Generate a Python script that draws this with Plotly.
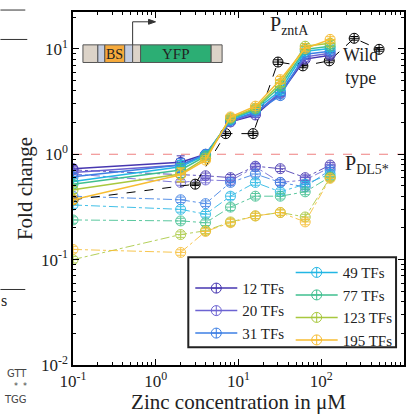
import plotly.graph_objects as go

# ---------------- data ----------------
zinc = [0.1, 2, 4, 8, 16, 32, 64, 128]
tf_labels = ["12 TFs", "20 TFs", "31 TFs", "49 TFs", "77 TFs", "123 TFs", "195 TFs"]
colors = ["#4636b0", "#6c63d2", "#3d7fe4", "#22b6e4", "#3fbf8f", "#a8c83e", "#f7bd32"]

# P_zntA (solid lines)
zntA_12 = [0.73, 0.84, 1.00, 2.03, 2.36, 3.78, 8.0, 8.7]
zntA_20 = [0.67, 0.79, 0.98, 2.03, 2.46, 3.86, 8.4, 9.1]
zntA_31 = [0.61, 0.79, 1.00, 2.08, 2.52, 3.60, 8.9, 9.5]
zntA_49 = [0.55, 0.76, 0.98, 2.12, 2.63, 4.03, 9.5, 10.1]
zntA_77 = [0.52, 0.71, 0.96, 2.17, 2.69, 4.40, 9.9, 10.6]
zntA_123 = [0.46, 0.65, 0.92, 2.21, 2.74, 4.70, 10.6, 11.3]
zntA_195 = [0.37, 0.64, 0.88, 2.26, 2.86, 5.10, 10.1, 12.3]

# P_DL5* (dash-dot lines)
dl5_12 = [0.71, 0.64, 0.625, 0.60, 0.77, 0.73, 0.60, 0.79]
dl5_20 = [0.65, 0.54, 0.57, 0.56, 0.76, 0.54, 0.57, 0.75]
dl5_31 = [0.40, 0.37, 0.34, 0.54, 0.65, 0.54, 0.49, 0.71]
dl5_49 = [0.33, 0.30, 0.27, 0.40, 0.54, 0.44, 0.52, 0.65]
dl5_77 = [0.238, 0.233, 0.224, 0.315, 0.40, 0.40, 0.44, 0.61]
dl5_123 = [0.100, 0.173, 0.188, 0.228, 0.26, 0.28, 0.254, 0.60]
dl5_195 = [0.125, 0.117, 0.185, 0.224, 0.26, 0.28, 0.228, 0.59]

# relative error bars per zinc concentration
zntA_rel_err = [0.08, 0.15, 0.05, 0.05, 0.05, 0.07, 0.06, 0.06]
dl5_rel_err = [0.07, 0.06, 0.06, 0.07, 0.06, 0.06, 0.06, 0.06]

# wild type
wt_zinc = [0.1, 3, 7, 15, 30, 60, 125, 250, 500]
wt_fold = [0.37, 0.52, 1.57, 1.57, 7.5, 6.9, 7.7, 12.6, 9.9]
wt_rel_err = [0.04, 0.03, 0.04, 0.04, 0.05, 0.04, 0.04, 0.04, 0.04]

x_tickvals = [0.1, 1, 10, 100, 1000]
x_ticktext = ["10<sup>-1</sup>", "10<sup>0</sup>", "10<sup>1</sup>", "10<sup>2</sup>", "10<sup>3</sup>"]
y_tickvals = [0.01, 0.1, 1, 10]
y_ticktext = ["10<sup>-2</sup>", "10<sup>-1</sup>", "10<sup>0</sup>", "10<sup>1</sup>"]

zntA_all = [zntA_12, zntA_20, zntA_31, zntA_49, zntA_77, zntA_123, zntA_195]
dl5_all = [dl5_12, dl5_20, dl5_31, dl5_49, dl5_77, dl5_123, dl5_195]

FONT = "Liberation Serif, Times New Roman, serif"
SANS = "DejaVu Sans, sans-serif"
TXT = "#222"
W, H = 410, 414
L, R, T, B = 73, 406, 12, 372


def px(x):
    return (x - L) / (R - L)


def py(y):
    return (B - y) / (B - T)


fig = go.Figure()

# lower (P_DL5*) series
for i in range(len(tf_labels)):
    vals = dl5_all[i]
    fig.add_trace(go.Scatter(
        x=zinc, y=vals, mode="lines+markers", showlegend=False,
        line=dict(color=colors[i], width=1, dash="dashdot"),
        marker=dict(symbol="circle-cross-open", size=10, color=colors[i], line=dict(width=1)),
        error_y=dict(type="data", array=[v * e for v, e in zip(vals, dl5_rel_err)],
                     color=colors[i], thickness=1, width=4),
        opacity=0.85,
    ))

# wild type
fig.add_trace(go.Scatter(
    x=wt_zinc, y=wt_fold, mode="lines+markers", showlegend=False,
    line=dict(color="black", width=1, dash="dash"),
    marker=dict(symbol="circle-cross-open", size=10, color="black", line=dict(width=1)),
    error_y=dict(type="data", array=[v * e for v, e in zip(wt_fold, wt_rel_err)],
                 color="black", thickness=1, width=4),
))

# upper (P_zntA) series
for i in range(len(tf_labels)):
    vals = zntA_all[i]
    fig.add_trace(go.Scatter(
        x=zinc, y=vals, mode="lines+markers", name=tf_labels[i],
        legend="legend" if i < 3 else "legend2",
        line=dict(color=colors[i], width=1.5),
        marker=dict(symbol="circle-cross-open", size=10, color=colors[i], line=dict(width=1)),
        error_y=dict(type="data", array=[v * e for v, e in zip(vals, zntA_rel_err)],
                     color=colors[i], thickness=1, width=4),
    ))

# minor tick positions (decoration)
x_minor = [k * 10 ** n for n in range(-1, 3) for k in range(2, 10)]
y_minor = [k * 10 ** n for n in range(-2, 2) for k in range(2, 10)]

axis_common = dict(
    type="log", showgrid=False, zeroline=False, showline=True, linecolor="black",
    linewidth=1.5, mirror="ticks", ticks="inside", ticklen=6, tickcolor="black",
    tickfont=dict(family=FONT, size=17, color=TXT),
    tickmode="array",
)

fig.update_xaxes(
    **axis_common, range=[-1, 3], tickvals=x_tickvals, ticktext=x_ticktext,
    minor=dict(tickvals=x_minor, ticks="inside", ticklen=3, tickcolor="black"),
    title=dict(text="Zinc concentration in μM", font=dict(family=FONT, size=21, color=TXT),
               standoff=4),
)
fig.update_yaxes(
    **axis_common, range=[-2, 1.35], tickvals=y_tickvals, ticktext=y_ticktext,
    minor=dict(tickvals=y_minor, ticks="inside", ticklen=3, tickcolor="black"),
    title=dict(text="Fold change", font=dict(family=FONT, size=21, color=TXT), standoff=3),
)

shapes = []
# reference line at fold change = 1
shapes.append(dict(type="line", xref="paper", yref="y", x0=0, x1=1, y0=1, y1=1,
                   line=dict(color="#f08080", width=1.2, dash="dash"), layer="below"))
# legend box
shapes.append(dict(type="rect", xref="paper", yref="paper", x0=px(189), x1=px(398),
                   y0=py(354), y1=py(262), line=dict(color="#222", width=2), layer="below"))

# promoter diagram
seg = [(83, 98, "#dcd3c8"), (98, 105, "#c4cde0"), (105, 125, "#f6aa3c"), (125, 133, "#c4cde0"),
       (133, 141, "#dcd3c8"), (141, 212, "#2cae74"), (212, 223, "#dcd3c8")]
for x0, x1, c in seg:
    shapes.append(dict(type="rect", xref="paper", yref="paper", x0=px(x0), x1=px(x1),
                       y0=py(63.5), y1=py(45.5), fillcolor=c, line=dict(color="#555", width=1),
                       layer="above"))
shapes.append(dict(type="path", xref="paper", yref="paper",
                   path=f"M{px(133)},{py(45.5)} L{px(133)},{py(22)} L{px(150)},{py(22)}",
                   line=dict(color="#333", width=1), layer="above"))
shapes.append(dict(type="path", xref="paper", yref="paper",
                   path=f"M{px(149)},{py(19.5)} L{px(156)},{py(22)} L{px(149)},{py(24.5)} Z",
                   fillcolor="#333", line=dict(color="#333", width=1), layer="above"))

# fragments of the neighbouring panel at the left edge
for yy, xe in [(10, 25), (40, 27), (295, 25)]:
    shapes.append(dict(type="line", xref="paper", yref="paper", x0=px(0), x1=px(xe),
                       y0=py(yy), y1=py(yy), line=dict(color="#333", width=1)))

annotations = [
    dict(text="BS", x=px(115), y=py(55), font=dict(family=FONT, size=14, color=TXT)),
    dict(text="YFP", x=px(177), y=py(54.5), font=dict(family=FONT, size=15, color=TXT)),
    dict(text="P<sub>zntA</sub>", x=px(291), y=py(26), font=dict(family=FONT, size=20, color=TXT)),
    dict(text="Wild<br>type", x=px(362), y=py(68), font=dict(family=FONT, size=18, color=TXT)),
    dict(text="P<sub>DL5*</sub>", x=px(369), y=py(168), font=dict(family=FONT, size=20, color=TXT)),
    dict(text="s", x=px(0), y=py(306), xanchor="left", font=dict(family=FONT, size=16, color=TXT)),
    dict(text="GTT", x=px(28), y=py(381), xanchor="right", font=dict(family=SANS, size=10, color="#444")),
    dict(text="*  *", x=px(28), y=py(394), xanchor="right", font=dict(family=SANS, size=8, color="#444")),
    dict(text="TGG", x=px(28), y=py(407), xanchor="right", font=dict(family=SANS, size=10, color="#444")),
]
for a in annotations:
    a.setdefault("xanchor", "center")
    a.update(xref="paper", yref="paper", showarrow=False, yanchor="middle", borderpad=0)

legend_common = dict(
    bgcolor="rgba(0,0,0,0)", borderwidth=0, font=dict(family=FONT, size=15, color=TXT),
    xanchor="left", yanchor="top", tracegroupgap=0, itemwidth=42,
)

fig.update_layout(
    width=W, height=H,
    font=dict(family=FONT, color=TXT),
    margin=dict(l=L, r=W - R, t=T, b=H - B),
    paper_bgcolor="white", plot_bgcolor="white",
    shapes=shapes, annotations=annotations,
    legend=dict(**legend_common, x=px(191), y=py(277)),
    legend2=dict(**legend_common, x=px(292), y=py(261)),
)

fig.write_html("out.html")
